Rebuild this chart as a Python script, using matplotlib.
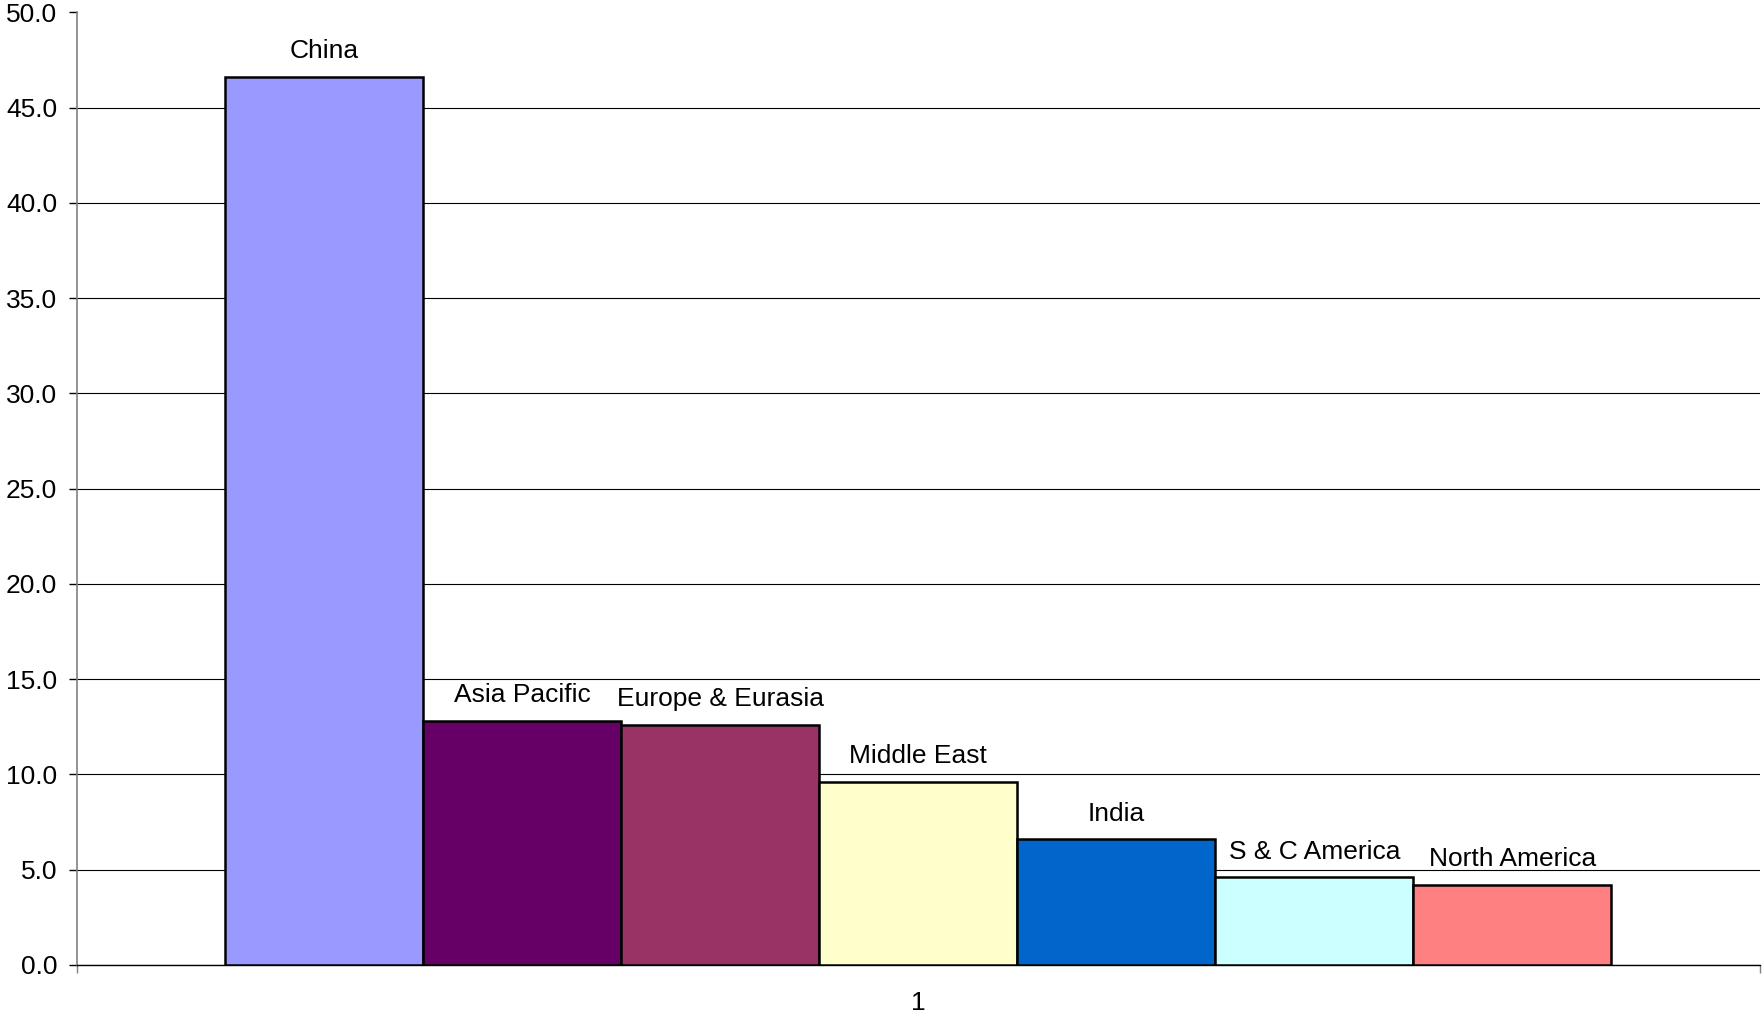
import numpy as np
import matplotlib
matplotlib.use("Agg")
import matplotlib.pyplot as plt

# region shares
regions = ["China", "Asia Pacific", "Europe & Eurasia", "Middle East",
           "India", "S & C America", "North America"]
values = [46.6, 12.8, 12.6, 9.6, 6.6, 4.6, 4.2]
colors = ["#9999FF", "#660066", "#993366", "#FFFFCC",
          "#0066CC", "#CCFFFF", "#FF8080"]
category = "1"

plt.rcParams["font.family"] = ["Liberation Sans", "DejaVu Sans"]

fig = plt.figure(figsize=(17.63, 10.15), dpi=100)
ax = fig.add_axes([0.0434, 0.0493, 0.9549, 0.9385])

x = np.arange(len(values))
bars = ax.bar(x, values, width=1.0, color=colors, edgecolor="black",
              linewidth=1.8, zorder=3)

for xi, v, name in zip(x, values, regions):
    ax.annotate(name, (xi, v), xytext=(0, 18.5), textcoords="offset points",
                ha="center", va="center", fontsize=19)

# Excel style gap width 150%
ax.set_xlim(-1.25, len(values) - 1 + 1.25)
ax.set_ylim(0, 50)
ax.set_yticks(np.arange(0, 50.1, 5))
ax.set_yticklabels(["%.1f" % t for t in np.arange(0, 50.1, 5)])

ax.set_xticks([(len(values) - 1) / 2])
ax.set_xticklabels([category])
ax.set_xticks([-1.25, len(values) - 1 + 1.25], minor=True)
ax.tick_params(axis="x", which="major", length=0, pad=19, labelsize=19)
ax.tick_params(axis="x", which="minor", length=6, direction="out",
               color="#808080", width=1)
ax.tick_params(axis="y", length=6, direction="out", pad=8, labelsize=19,
               width=1)

ax.yaxis.grid(True, color="black", linewidth=0.8, zorder=0)
ax.get_ygridlines()[-1].set_visible(False)
ax.set_axisbelow(True)

ax.spines["top"].set_visible(False)
ax.spines["right"].set_visible(False)
ax.spines["left"].set_color("#808080")
ax.spines["left"].set_linewidth(1.2)
ax.spines["bottom"].set_color("black")
ax.spines["bottom"].set_linewidth(1.0)

fig.savefig("out.png", dpi=100)
